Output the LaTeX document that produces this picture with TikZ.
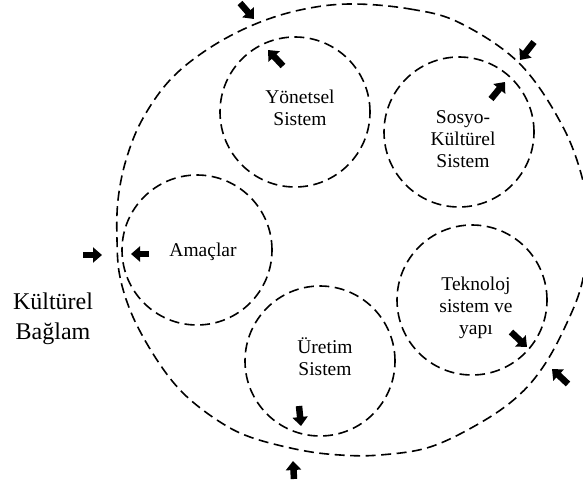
\documentclass[tikz,border=0pt]{standalone}
\usepackage{fontspec}
\setmainfont{Liberation Serif}
\usetikzlibrary{arrows.meta}
\begin{document}
\begin{tikzpicture}[x=1pt,y=-1pt,
  dashline/.style={line width=1.6pt, dash pattern=on 10pt off 5.5pt},
  sys/.style={dashline, circle, draw, minimum size=150pt, inner sep=0pt},
  lbl/.style={align=center, font=\fontsize{19.5}{22}\selectfont},
  ctx/.style={align=center, font=\fontsize{24}{30}\selectfont},
  blk/.style={line width=6.5pt, -{Triangle[width=15pt,length=9pt]}}]
\useasboundingbox (0,0) rectangle (583,484);

% outer cultural context boundary
\draw[dashline] plot[smooth cycle, tension=0.6] coordinates {
  (350,4) (410,9) (460,23) (520,64) (563,127) (584,185) (588,230)
  (582,283) (565,327) (543,367) (517,397) (480,423) (430,447) (380,455)
  (340,455) (300,450) (250,437) (217,420) (183,393) (157,360) (133,317)
  (120,277) (117,240) (118,200) (126,160) (142,120) (170,80) (208,49)
  (253,25) (300,10)};

% subsystems
\node[sys] (yon) at (295,112) {};
\node[sys] (sos) at (459,132) {};
\node[sys] (ama) at (197,250) {};
\node[sys] (tek) at (472,300) {};
\node[sys] (ure) at (320,361) {};

\node[lbl] (tyon) at (300,108) {Yönetsel\\Sistem};
\node[lbl] (tsos) at (463,139) {Sosyo-\\Kültürel\\Sistem};
\node[lbl] (tama) at (203,252) {Amaçlar};
\node[lbl] (ttek) at (476,308) {Teknoloj\\sistem ve\\yapı};
\node[lbl] (ture) at (325,357) {Üretim\\Sistem};
\node[ctx] (kb) at (53,319) {Kültürel\\Bağlam};

% interaction arrows
\coordinate (a1s) at (240,3);   \coordinate (a1e) at (254,19);
\coordinate (a2s) at (283,66);  \coordinate (a2e) at (268,50);
\coordinate (a3s) at (534,42);  \coordinate (a3e) at (520,60);
\coordinate (a4s) at (491,99);  \coordinate (a4e) at (505,82);
\coordinate (a5s) at (83,255);  \coordinate (a5e) at (102,255);
\coordinate (a6s) at (149,254); \coordinate (a6e) at (131,254);
\coordinate (a7s) at (511,332); \coordinate (a7e) at (527,347);
\coordinate (a8s) at (568,384); \coordinate (a8e) at (552,369);
\coordinate (a9s) at (299,406); \coordinate (a9e) at (301,426);
\coordinate (a10s) at (294,479); \coordinate (a10e) at (293,461);
\foreach \i in {1,...,10} \draw[blk] (a\i s) -- (a\i e);
\end{tikzpicture}
\end{document}
